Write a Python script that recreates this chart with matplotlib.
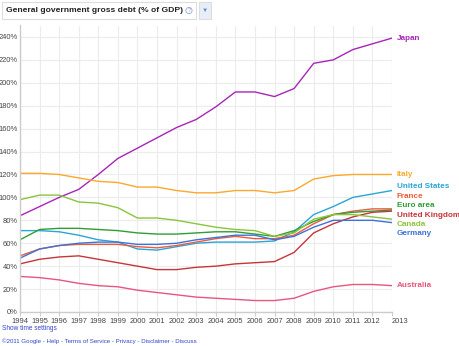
import numpy as np
import matplotlib.pyplot as plt
from matplotlib.patches import Rectangle

plt.rcParams['font.family'] = ['Liberation Sans', 'DejaVu Sans']

# Years shown on the x axis
years = list(range(1994, 2014))

# General government gross debt, % of GDP
japan = [84, 92, 100, 107, 120, 134, 143, 152, 161, 168, 179, 192, 192, 188, 195, 217, 220, 229, 234, 239]
italy = [121, 121, 120, 117, 114, 113, 109, 109, 106, 104, 104, 106, 106, 104, 106, 116, 119, 120, 120, 120]
united_states = [71, 71, 70, 67, 63, 61, 55, 54, 57, 60, 61, 61, 61, 62, 70, 85, 92, 100, 103, 106]
france = [49, 55, 58, 59, 59, 59, 57, 56, 58, 61, 64, 66, 64, 64, 67, 77, 85, 88, 90, 90]
euro_area = [63, 72, 73, 73, 72, 71, 69, 68, 68, 69, 70, 70, 68, 66, 71, 79, 85, 87, 88, 89]
united_kingdom = [42, 46, 48, 49, 46, 43, 40, 37, 37, 39, 40, 42, 43, 44, 52, 69, 77, 83, 87, 88]
canada = [98, 102, 102, 96, 95, 91, 82, 82, 80, 77, 74, 72, 71, 66, 69, 81, 85, 85, 83, 81]
germany = [47, 55, 58, 60, 61, 61, 59, 59, 60, 63, 65, 67, 67, 63, 66, 74, 80, 80, 80, 78]
australia = [31, 30, 28, 25, 23, 22, 19, 17, 15, 13, 12, 11, 10, 10, 12, 18, 22, 24, 24, 23]

names = ['Japan', 'Italy', 'United States', 'France', 'Euro area',
         'United Kingdom', 'Canada', 'Germany', 'Australia']
series = [japan, italy, united_states, france, euro_area,
          united_kingdom, canada, germany, australia]
colors = ['#a726b8', '#fba92c', '#2aa5d6', '#ef5b3a', '#2e9e35',
          '#c7353a', '#8cc43c', '#3f72d9', '#e8557f']

y_ticks = list(range(0, 260, 20))

fig = plt.figure(figsize=(4.6, 3.46), dpi=100)
ax = fig.add_axes([20 / 460, 1 - 312 / 346, 372 / 460, (312 - 25.5) / 346])

for vals, col in zip(series, colors):
    ax.plot(years, vals, color=col, lw=1.0, solid_joinstyle='round')

ax.set_xlim(years[0], years[-1])
ax.set_ylim(0, 250)
ax.set_xticks(years)
ax.set_xticklabels([str(y) for y in years], fontsize=5.4, color='#444444')
ax.set_yticks(y_ticks)
ax.set_yticklabels(['%d%%' % v for v in y_ticks], fontsize=5.4, color='#444444')
ax.tick_params(axis='x', length=3, color='#cccccc', pad=1)
ax.tick_params(axis='y', length=0, pad=1.5)
ax.grid(True, color='#ececec', lw=0.8)
ax.set_axisbelow(True)
for s in ['top', 'right']:
    ax.spines[s].set_visible(False)
for s in ['left', 'bottom']:
    ax.spines[s].set_color('#cccccc')
    ax.spines[s].set_linewidth(1.0)

# last year label sits right of its tick in the original
lbls = ax.get_xticklabels()
lbls[-1].set_horizontalalignment('left')

# dodge the end labels so they do not overlap
ends = np.array([v[-1] for v in series], dtype=float)
pos = ends.copy()
gap = 8.2
for _ in range(200):
    order = np.argsort(-pos)
    for a, b in zip(order[:-1], order[1:]):
        d = pos[a] - pos[b]
        if d < gap:
            shift = (gap - d) / 2
            pos[a] += shift
            pos[b] -= shift

for name, col, p in zip(names, colors, pos):
    ax.text(years[-1] + 0.25, p, name, color=col, fontsize=5.9,
            va='center', ha='left', fontweight='bold', clip_on=False)

# header box with title
fig.patches.append(Rectangle((2 / 460, 1 - 19 / 346), 194 / 460, 17 / 346,
                             transform=fig.transFigure, fill=False,
                             ec='#dddddd', lw=0.8))
fig.patches.append(Rectangle((199 / 460, 1 - 19 / 346), 12 / 460, 17 / 346,
                             transform=fig.transFigure, fc='#e8eef8',
                             ec='#dddddd', lw=0.8))
fig.text(6 / 460, 1 - 10.5 / 346, 'General government gross debt (% of GDP)',
         fontsize=6.1, fontweight='bold', color='#222222', va='center')
fig.text(189 / 460, 1 - 10.5 / 346, '?', fontsize=4.3, color='#99aacc',
         va='center', ha='center',
         bbox=dict(boxstyle='circle,pad=0.1', fc='white', ec='#99aacc', lw=0.6))
fig.text(205 / 460, 1 - 10 / 346, '\u25bc', fontsize=4.5, color='#6688cc',
         va='center', ha='center')

# footer links
fig.text(2 / 460, 1 - 329 / 346, 'Show time settings', fontsize=4.7,
         color='#3344cc', va='center')
fig.text(2 / 460, 1 - 341 / 346,
         '\u00a92011 Google - Help - Terms of Service - Privacy - Disclaimer - Discuss',
         fontsize=4.4, color='#3344cc', va='center')

fig.savefig('out.png', dpi=100)
